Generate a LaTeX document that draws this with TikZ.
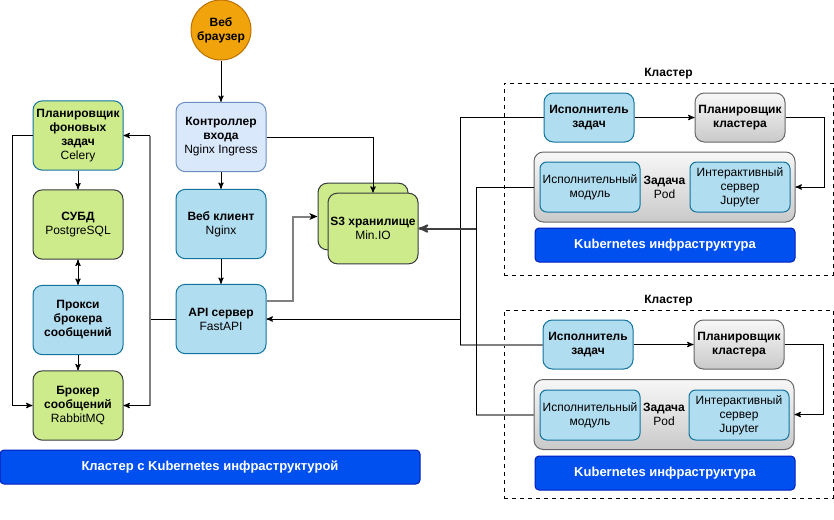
\documentclass[tikz,border=0pt]{standalone}
\usepackage{fontspec}
\setmainfont{Liberation Sans}
\usetikzlibrary{shapes,arrows,arrows.meta,positioning}
\definecolor{softgreen}{HTML}{CDEB8B}
\definecolor{softblue}{HTML}{B1DDF0}
\definecolor{paleblue}{HTML}{DAE8FC}
\definecolor{lineteal}{HTML}{10739E}
\definecolor{linepale}{HTML}{6C8EBF}
\definecolor{linedark}{HTML}{36393D}
\definecolor{browserorange}{HTML}{F0A30A}
\definecolor{lineorange}{HTML}{BD7000}
\definecolor{kubeblue}{HTML}{0050EF}
\definecolor{linekube}{HTML}{001DBC}
\definecolor{linegray}{HTML}{666666}
\definecolor{wiregray}{HTML}{808080}

\begin{document}
\begin{tikzpicture}[x=0.75pt, y=-0.75pt, font=\fontsize{9}{10.5}\selectfont, >=stealth', line width=0.75pt,
    box/.style={draw, rounded corners=7pt, line width=0.75pt, align=center, inner sep=1pt, minimum width=67.5pt, minimum height=52pt},
    greenbox/.style={box, fill=softgreen, draw=linedark},
    bluebox/.style={box, fill=softblue, draw=lineteal},
    graybox/.style={box, top color=gray!6, bottom color=gray!42, draw=linegray},
    smallbox/.style={minimum height=36.75pt},
    modbox/.style={bluebox, minimum width=75pt, minimum height=37.5pt, rounded corners=5pt},
    kubebar/.style={draw=linekube, fill=kubeblue, rounded corners=3pt, minimum width=195pt, minimum height=25.5pt, text=white, font=\fontsize{9.75}{11}\selectfont\bfseries},
    cluster/.style={draw, dashed, minimum width=246.75pt},
    link/.style={->, line width=0.75pt},
    graywire/.style={line width=1.5pt, draw=wiregray},
    graylink/.style={graywire, -{Stealth[black, length=6pt, width=5pt, inset=1.5pt]}},
    wire/.style={line width=0.75pt}]
    \useasboundingbox (0,0) rectangle (834,519);

    % Clusters on the right
    \node[cluster, minimum height=144pt] (cluster1) at (668.5,179) {};
    \node[above, inner sep=2pt, font=\fontsize{9}{10.5}\selectfont\bfseries] (cluster1label) at (cluster1.north) {Кластер};
    \node[cluster, minimum height=141pt] (cluster2) at (668.5,404) {};
    \node[above, inner sep=2pt, font=\fontsize{9}{10.5}\selectfont\bfseries] (cluster2label) at (cluster2.north) {Кластер};

    % Left column
    \node[greenbox, draw=lineteal] (celery) at (78,135.5) {\textbf{Планировщик}\\\textbf{фоновых}\\\textbf{задач}\\Celery};
    \node[greenbox] (postgres) at (78,224.5) {\textbf{СУБД}\\PostgreSQL};
    \node[bluebox] (proxy) at (78,320) {\textbf{Прокси}\\\textbf{брокера}\\\textbf{сообщений}};
    \node[greenbox] (rabbit) at (78,405.5) {\textbf{Брокер}\\\textbf{сообщений}\\RabbitMQ};

    % Middle column
    \node[draw=lineorange, fill=browserorange, circle, minimum size=45pt, align=center, inner sep=0pt] (browser) at (221,30) {\textbf{Веб}\\\textbf{браузер}};
    \node[box, fill=paleblue, draw=linepale] (ingress) at (221,137) {\textbf{Контроллер}\\\textbf{входа}\\Nginx Ingress};
    \node[bluebox] (webclient) at (221,224) {\textbf{Веб клиент}\\Nginx};
    \node[bluebox] (api) at (221,319) {\textbf{API сервер}\\FastAPI};

    % Storage
    \node[greenbox, minimum height=50pt] (minioback) at (363,216.5) {};
    \node[greenbox, minimum height=53pt] (minio) at (373,228.5) {\textbf{S3 хранилище}\\Min.IO};

    % First cluster
    \node[bluebox, smallbox] (exec1) at (589,117.5) {\textbf{Исполнитель}\\\textbf{задач}};
    \node[graybox, smallbox] (sched1) at (740,117.5) {\textbf{Планировщик}\\\textbf{кластера}};
    \node[graybox, minimum width=195.75pt, minimum height=52.5pt] (pod1) at (664.5,187) {\textbf{Задача}\\Pod};
    \node[modbox] (module1) at (590,187) {Исполнительный\\модуль};
    \node[modbox] (jupyter1) at (740,187) {Интерактивный\\сервер\\Jupyter};
    \node[kubebar] (kube1) at (665,245) {Kubernetes инфраструктура};

    % Second cluster
    \node[bluebox, smallbox] (exec2) at (588,344.5) {\textbf{Исполнитель}\\\textbf{задач}};
    \node[graybox, smallbox] (sched2) at (739,344.5) {\textbf{Планировщик}\\\textbf{кластера}};
    \node[graybox, minimum width=195pt, minimum height=52.5pt] (pod2) at (664,414.5) {\textbf{Задача}\\Pod};
    \node[modbox] (module2) at (590,415) {Исполнительный\\модуль};
    \node[modbox] (jupyter2) at (739,415) {Интерактивный\\сервер\\Jupyter};
    \node[kubebar] (kube2) at (665,473) {Kubernetes инфраструктура};

    % Bottom bar
    \node[kubebar, minimum width=315pt] (mainbar) at (210,467) {Кластер с Kubernetes инфраструктурой};

    % Left column links
    \draw[link] (celery) -- (postgres);
    \draw[<->, line width=0.75pt] (postgres) -- (proxy);
    \draw[link] (proxy) -- (rabbit);
    \draw[link] (celery.west) -- ++(-20,0) |- (rabbit.west);
    \coordinate (apibus) at (150,319);
    \coordinate (celerybus) at (apibus |- celery.east);
    \coordinate (rabbitbus) at (apibus |- rabbit.east);
    \draw[wire] (api.west) -- (apibus);
    \draw[graywire] (celerybus) -- (rabbitbus);
    \draw[link] (celerybus) -- (celery.east);
    \draw[link] (rabbitbus) -- (rabbit.east);

    % Middle column links
    \draw[link] (browser) -- (ingress);
    \draw[link] (ingress) -- (webclient);
    \draw[link] (webclient) -- (api);
    \draw[link] (ingress.east) -| (minio.north);
    \draw[graylink] ([yshift=13.5pt]api.east) -- ++(26,0) |- (minioback.west);

    % Links from the clusters
    \coordinate (execbus) at (460,319);
    \draw[link] (execbus) -- (api.east);
    \draw[wire] (exec1.west) -| (execbus);
    \draw[graywire] (exec2.west) -- (exec2.west -| execbus);
    \draw[wire] (exec2.west -| execbus) -- (execbus);
    \coordinate (podbus) at (476,228.5);
    \draw[->, line width=1.5pt, draw=black!75] (podbus) -- (minio.east);
    \draw[wire] (pod1.west) -| (podbus);
    \draw[graywire] (pod2.west) -- (pod2.west -| podbus);
    \draw[wire] (pod2.west -| podbus) -- (podbus);

    % Inside the clusters
    \draw[link] (exec1) -- (sched1);
    \draw[link] (sched1.east) -- ++(39,0) |- (pod1.east);
    \draw[link] (exec2) -- (sched2);
    \draw[link] (sched2.east) -- ++(39,0) |- (pod2.east);
\end{tikzpicture}
\end{document}
